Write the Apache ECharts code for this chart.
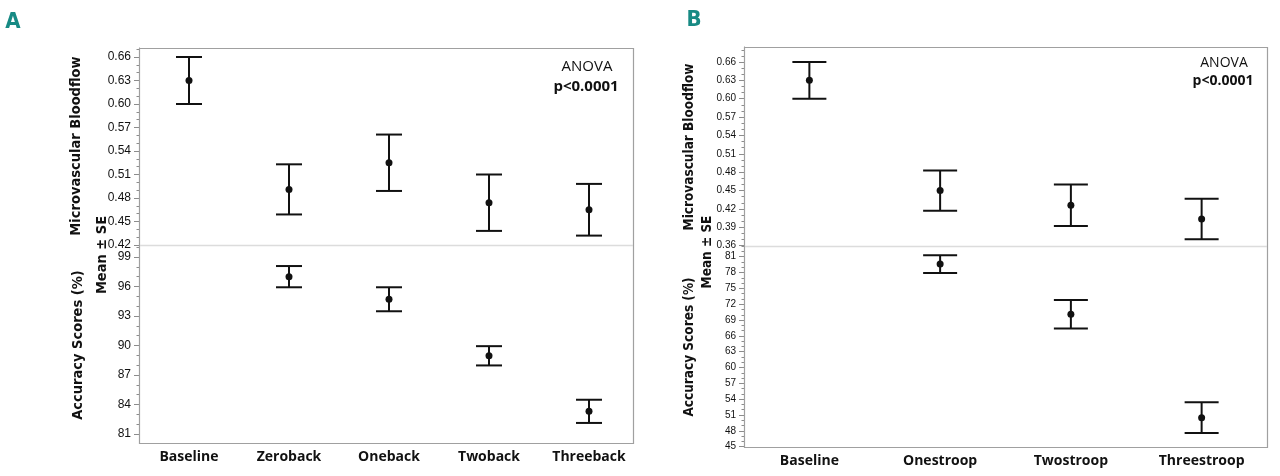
<!DOCTYPE html>
<html>
<head>
<meta charset="utf-8">
<script src="https://cdn.jsdelivr.net/npm/echarts@6/dist/echarts.min.js"></script>
<style>html,body{margin:0;padding:0;background:#fff;}#c{width:1280px;height:476px;}</style>
</head>
<body>
<div id="c"></div>
<script>
// ---- data ----
const catsA = ['Baseline', 'Zeroback', 'Oneback', 'Twoback', 'Threeback'];
const flowMeanA = [0.630, 0.491, 0.525, 0.474, 0.465];
const flowSeA = [0.030, 0.032, 0.036, 0.036, 0.033];
const accMeanA = [null, 97.0, 94.7, 88.95, 83.3];
const accSeA = [null, 1.08, 1.22, 0.98, 1.18];

const catsB = ['Baseline', 'Onestroop', 'Twostroop', 'Threestroop'];
const flowMeanB = [0.630, 0.450, 0.426, 0.4035];
const flowSeB = [0.030, 0.033, 0.034, 0.033];
const accMeanB = [null, 79.6, 70.1, 50.5];
const accSeB = [null, 1.7, 2.7, 2.93];

const flowTicksA = [0.42, 0.45, 0.48, 0.51, 0.54, 0.57, 0.60, 0.63, 0.66];
const accTicksA = [81, 84, 87, 90, 93, 96, 99];
const flowTicksB = [0.36, 0.39, 0.42, 0.45, 0.48, 0.51, 0.54, 0.57, 0.60, 0.63, 0.66];
const accTicksB = [45, 48, 51, 54, 57, 60, 63, 66, 69, 72, 75, 78, 81];

// ---- layout ----
const LA = {left: 139, right: 633, top: 48, mid: 245, bottom: 443};
const LB = {left: 744, right: 1267, top: 47, mid: 246, bottom: 447};
const AXC = '#8c8c8c';
const INK = '#111';
const TEAL = '#178a84';
const NARROW = '"Liberation Sans Narrow", "DejaVu Sans Condensed", "Liberation Sans", sans-serif';

function minors(ticks, step, lo, hi) {
  const out = [];
  for (let i = 0; i < ticks.length - 1; i++) {
    for (let k = 1; k < 3; k++) out.push(+(ticks[i] + step * k / 3).toFixed(4));
  }
  for (let k = 1; k < 3; k++) {
    const a = +(ticks[0] - step * k / 3).toFixed(4);
    if (a > lo) out.push(a);
    const b = +(ticks[ticks.length - 1] + step * k / 3).toFixed(4);
    if (b < hi) out.push(b);
  }
  return out;
}

function grid(L, part) {
  const top = part === 'up' ? L.top : L.mid;
  const bot = part === 'up' ? L.mid : L.bottom;
  return {left: L.left, width: L.right - L.left, top: top, height: bot - top, containLabel: false};
}

function yMajor(gi, min, max, ticks, dec, fs) {
  return {
    type: 'value', gridIndex: gi, min: min, max: max, position: 'left', splitLine: {show: false},
    axisLine: {show: true, onZero: false, lineStyle: {color: AXC, width: 1}},
    axisTick: {show: true, length: 5, lineStyle: {color: AXC}, customValues: ticks},
    axisLabel: {show: true, customValues: ticks, margin: 8, fontSize: fs, color: '#111',
      fontFamily: 'Liberation Sans, sans-serif',
      formatter: v => dec ? Number(v).toFixed(dec) : String(Math.round(v))}
  };
}
function yMinor(gi, min, max, vals) {
  return {
    type: 'value', gridIndex: gi, min: min, max: max, position: 'left', offset: 0, splitLine: {show: false},
    axisLine: {show: false, onZero: false},
    axisTick: {show: true, length: 2.5, lineStyle: {color: AXC}, customValues: vals},
    axisLabel: {show: false}
  };
}
function xAxis(gi, min, max, cats, showLabels) {
  const idx = cats.map((c, i) => i);
  return {
    type: 'value', gridIndex: gi, min: min, max: max, position: 'bottom', splitLine: {show: false},
    axisLine: {show: false, onZero: false}, axisTick: {show: false},
    axisLabel: {show: showLabels, customValues: idx, margin: 7, fontSize: 14, fontWeight: 'bold',
      color: '#111', fontFamily: '"Open Sans", sans-serif', formatter: v => cats[Math.round(v)]}
  };
}

function errRender(capHalf) {
  return function (params, api) {
    const x = api.value(0), m = api.value(1), s = api.value(2);
    const t = api.coord([x, m + s]);
    const c = api.coord([x, m]);
    const b = api.coord([x, m - s]);
    const st = {stroke: INK, lineWidth: 2};
    return {type: 'group', children: [
      {type: 'line', shape: {x1: t[0], y1: t[1], x2: b[0], y2: b[1]}, style: st},
      {type: 'line', shape: {x1: t[0] - capHalf, y1: t[1], x2: t[0] + capHalf, y2: t[1]}, style: st},
      {type: 'line', shape: {x1: b[0] - capHalf, y1: b[1], x2: b[0] + capHalf, y2: b[1]}, style: st},
      {type: 'circle', shape: {cx: c[0], cy: c[1], r: 3.5}, style: {fill: INK}}
    ]};
  };
}
function toData(means, ses) {
  const d = [];
  means.forEach((m, i) => { if (m !== null) d.push([i, m, ses[i]]); });
  return d;
}
function errSeries(xi, yi, means, ses, capHalf) {
  return {type: 'custom', coordinateSystem: 'cartesian2d', xAxisIndex: xi, yAxisIndex: yi,
    renderItem: errRender(capHalf), data: toData(means, ses), clip: false, silent: true};
}

// axis ranges
const yA1 = [0.42, 0.6715];
const yA2 = [80.08, 100.22];
const yB1 = [0.3595, 0.6845];
const yB2 = [44.94, 83.03];
const xA = [-0.5, 4.44];
const xB = [-0.5, 3.5];

function vtext(x, y, text, size) {
  return {type: 'text', x: x, y: y, rotation: Math.PI / 2, silent: true,
    style: {text: text, fill: '#111', font: 'bold ' + size + 'px ' + NARROW, align: 'center', verticalAlign: 'middle'}};
}
function htext(x, y, text, size, bold, color, fam) {
  return {type: 'text', x: x, y: y, silent: true,
    style: {text: text, fill: color || '#111', font: (bold ? 'bold ' : '') + size + 'px ' + (fam || '"Open Sans", sans-serif'),
      align: 'center', verticalAlign: 'middle'}};
}
function frame(L) {
  return [
    {type: 'rect', shape: {x: L.left + 0.5, y: L.top + 0.5, width: L.right - L.left, height: L.bottom - L.top},
      style: {fill: null, stroke: '#a0a0a0', lineWidth: 1.2}, silent: true, z: 1},
    {type: 'line', shape: {x1: L.left + 1, y1: L.mid + 0.5, x2: L.right, y2: L.mid + 0.5},
      style: {stroke: '#dcdcdc', lineWidth: 1.5}, silent: true, z: 1}
  ];
}

const chart = echarts.init(document.getElementById('c'), null, {renderer: 'canvas'});
chart.setOption({
  backgroundColor: '#fff',
  animation: false,
  grid: [grid(LA, 'up'), grid(LA, 'low'), grid(LB, 'up'), grid(LB, 'low')],
  xAxis: [
    xAxis(0, xA[0], xA[1], catsA, false),
    xAxis(1, xA[0], xA[1], catsA, true),
    xAxis(2, xB[0], xB[1], catsB, false),
    xAxis(3, xB[0], xB[1], catsB, true)
  ],
  yAxis: [
    yMajor(0, yA1[0], yA1[1], flowTicksA, 2, 12),
    yMajor(1, yA2[0], yA2[1], accTicksA, 0, 12),
    yMajor(2, yB1[0], yB1[1], flowTicksB, 2, 10),
    yMajor(3, yB2[0], yB2[1], accTicksB, 0, 10),
    yMinor(0, yA1[0], yA1[1], minors(flowTicksA, 0.03, yA1[0], yA1[1])),
    yMinor(1, yA2[0], yA2[1], minors(accTicksA, 3, yA2[0], yA2[1])),
    yMinor(2, yB1[0], yB1[1], minors(flowTicksB, 0.03, yB1[0], yB1[1])),
    yMinor(3, yB2[0], yB2[1], minors(accTicksB, 3, yB2[0], yB2[1]))
  ],
  series: [
    errSeries(0, 0, flowMeanA, flowSeA, 13),
    errSeries(1, 1, accMeanA, accSeA, 13),
    errSeries(2, 2, flowMeanB, flowSeB, 17),
    errSeries(3, 3, accMeanB, accSeB, 17)
  ],
  graphic: [].concat(
    frame(LA), frame(LB),
    [
      htext(13, 22, 'A', 22, true, TEAL, NARROW),
      htext(694, 20, 'B', 22, true, TEAL, NARROW),
      vtext(76, 146, 'Microvascular Bloodflow', 14.5),
      vtext(102, 255, 'Mean \u00B1 SE', 14.5),
      vtext(78, 345, 'Accuracy Scores (%)', 14.5),
      vtext(689, 147, 'Microvascular Bloodflow', 13.5),
      vtext(707, 252, 'Mean \u00B1 SE', 13.5),
      vtext(689, 347, 'Accuracy Scores (%)', 13.5),
      htext(587, 67, 'ANOVA', 15, false),
      htext(586, 87, 'p<0.0001', 15, true),
      htext(1224, 63, 'ANOVA', 14, false),
      htext(1223, 81, 'p<0.0001', 14, true)
    ]
  )
});
</script>
</body>
</html>
